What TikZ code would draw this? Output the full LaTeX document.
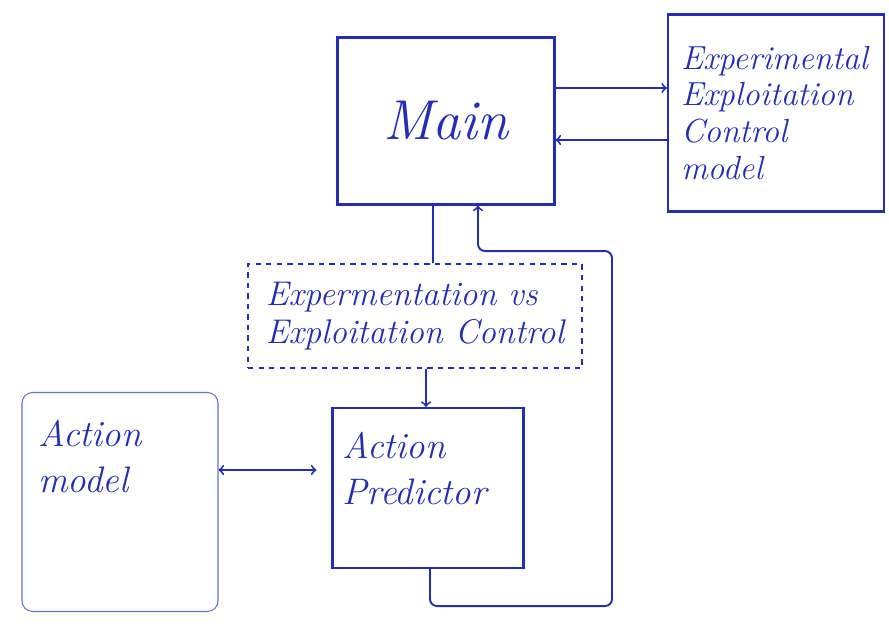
\documentclass[tikz,border=0pt]{standalone}
\usetikzlibrary{arrows}
\definecolor{ink}{RGB}{35,45,185}
\definecolor{paleink}{RGB}{95,115,215}
\begin{document}
\begin{tikzpicture}[x=0.02cm,y=-0.02cm,
  box/.style={draw=ink, line width=1.2pt, text=ink, font=\itshape\fontsize{19}{21}\selectfont, align=left, inner sep=0pt},
  wire/.style={draw=ink, line width=1.1pt},
  ->/.style={wire, -to}]
\useasboundingbox (0,0) rectangle (889,624);
\node[box, minimum width=4.34cm, minimum height=3.34cm, font=\itshape\fontsize{32}{38}\selectfont] (main) at (446,121){Main};
\node[box, minimum width=4.32cm, minimum height=3.94cm, text width=3.8cm] (ctrl) at (776,113){Experimental\\Exploitation\\Control\\model};
\node[box, dashed, line width=0.9pt, minimum width=6.68cm, minimum height=2.08cm, font=\itshape\fontsize{19.5}{22}\selectfont] (evse) at (415,316){Expermentation vs\\Exploitation Control};
\node[box, draw=paleink, line width=0.6pt, rounded corners=6pt, minimum width=3.92cm, minimum height=4.38cm] (amodel) at (120,502){};
\node[text=ink, font=\itshape\fontsize{21}{26}\selectfont, align=left, anchor=north west] (amtext) at (32,414){Action\\model};
\node[box, minimum width=3.82cm, minimum height=3.2cm] (pred) at (428,488){};
\node[text=ink, font=\itshape\fontsize{21}{26}\selectfont, align=left, anchor=north west] (predtext) at (336,426){Action\\Predictor};
\draw[->] ([yshift=6.6mm]main.east) -- ([yshift=5mm]ctrl.west);
\draw[->] ([yshift=-5.4mm]ctrl.west) -- ([yshift=-3.8mm]main.east);
\draw[wire] ([xshift=-2.6mm]main.south) -- ([xshift=3.6mm]evse.north);
\draw[->] ([xshift=2.2mm]evse.south) -- ([xshift=-0.4mm]pred.north);
\draw[wire, to-to] ([yshift=6.4mm]amodel.east) -- ([yshift=3.6mm, xshift=-3mm]pred.west);
\draw[->, rounded corners=4pt] ([xshift=0.4mm]pred.south) -- ++(0,37) -- ++(182,0) -- ++(0,-355) -| ([xshift=6.4mm]main.south);

\end{tikzpicture}
\end{document}
